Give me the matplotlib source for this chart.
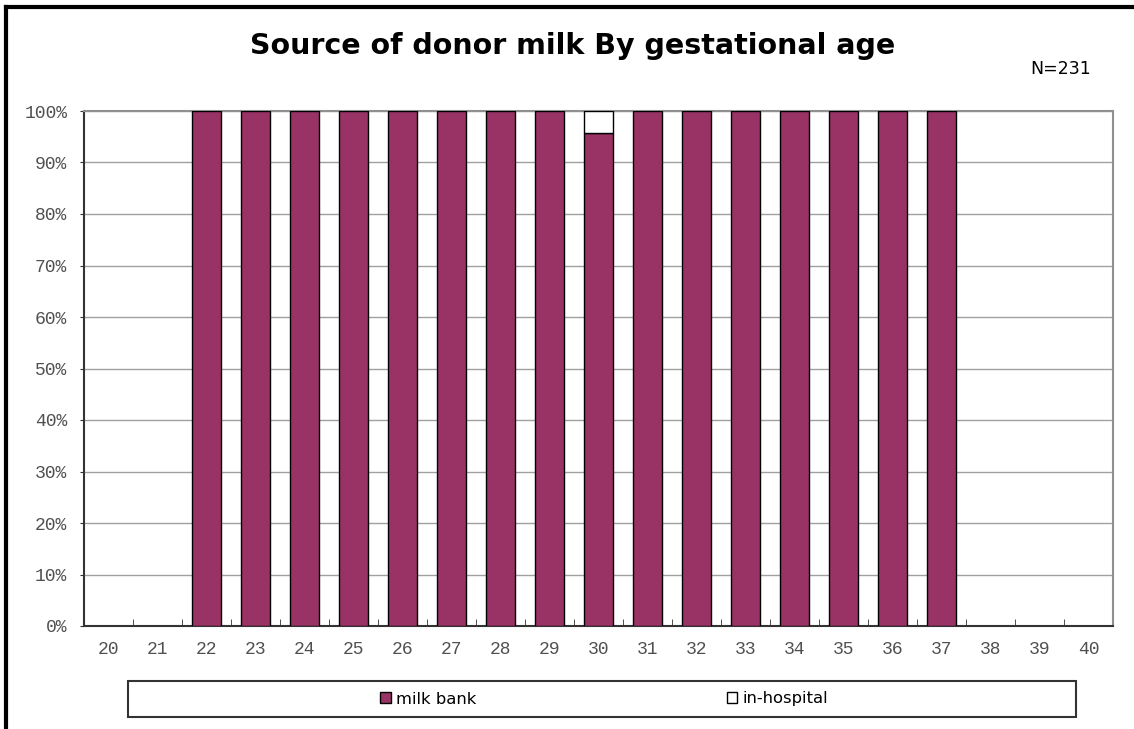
import matplotlib
matplotlib.use("Agg")
import matplotlib.pyplot as plt
from matplotlib.patches import Rectangle
from matplotlib.lines import Line2D
import numpy as np

categories = [str(w) for w in range(20, 41)]
milk_bank = [0, 0, 100, 100, 100, 100, 100, 100, 100, 100, 95.7, 100, 100, 100, 100, 100, 100, 100, 0, 0, 0]
in_hospital = [0, 0, 0, 0, 0, 0, 0, 0, 0, 0, 4.3, 0, 0, 0, 0, 0, 0, 0, 0, 0, 0]
title = "Source of donor milk By gestational age"
note = "N=231"
series_names = ["milk bank", "in-hospital"]
yticks = list(range(0, 101, 10))
ytick_labels = [f"{v}%" for v in yticks]

W, H = 1134, 729
fig = plt.figure(figsize=(W / 100, H / 100), dpi=100)
fig.patch.set_facecolor("white")

L, R, T, B = 84, 1113, 111, 626
ax = fig.add_axes([L / W, 1 - B / H, (R - L) / W, (B - T) / H])

x = np.arange(len(categories))
mb = np.array(milk_bank, dtype=float)
ih = np.array(in_hospital, dtype=float)
purple = "#993366"
bw = 0.6
m1 = mb > 0
ax.bar(x[m1], mb[m1], width=bw, color=purple, edgecolor="black", linewidth=1.0, zorder=3)
m2 = ih > 0
ax.bar(x[m2], ih[m2], bottom=mb[m2], width=bw,
       color="white", edgecolor="black", linewidth=1.0, zorder=3)

tick_font = {"family": "Liberation Mono", "size": 13}
ax.set_xlim(-0.5, len(categories) - 0.5)
ax.set_ylim(0, 100)
ax.set_yticks(yticks)
ax.set_yticklabels(ytick_labels, fontdict=tick_font, color="#505050")
ax.yaxis.grid(True, color="#a0a0a0", linewidth=1.0, zorder=0)
ax.tick_params(axis="y", length=3, direction="out", color="#333333", pad=9)

ax.set_xticks(x)
ax.set_xticklabels(categories, fontdict=tick_font, color="#505050")
ax.tick_params(axis="x", length=0, pad=11)
ax.set_xticks(np.arange(-0.5, len(categories) + 0.5, 1), minor=True)
ax.tick_params(axis="x", which="minor", length=5, direction="in", color="#333333")

for s in ["left", "bottom"]:
    ax.spines[s].set_color("#333333")
    ax.spines[s].set_linewidth(1.5)
for s in ["top", "right"]:
    ax.spines[s].set_color("#909090")
    ax.spines[s].set_linewidth(1.5)

fig.text(573 / W, 1 - 46 / H, title, ha="center", va="center", fontsize=20.5,
         fontweight="bold", fontfamily="DejaVu Sans")
fig.text(1061 / W, 1 - 69 / H, note, ha="center", va="center", fontsize=12.5,
         fontfamily="DejaVu Sans")

# outer chart border (top and left only visible)
fig.add_artist(Line2D([6 / W, 6 / W], [0, 1 - 7 / H], transform=fig.transFigure, color="black", linewidth=3))
fig.add_artist(Line2D([6 / W, 1], [1 - 7 / H, 1 - 7 / H], transform=fig.transFigure, color="black", linewidth=3))

# legend box
fig.add_artist(Rectangle((128 / W, 1 - 717 / H), (1076 - 128) / W, (717 - 681) / H,
                         transform=fig.transFigure, facecolor="white", edgecolor="#333333", linewidth=1.5))
handles = [Rectangle((0, 0), 1, 1, facecolor=purple, edgecolor="black", linewidth=1),
           Rectangle((0, 0), 1, 1, facecolor="white", edgecolor="black", linewidth=1)]
fig.legend(handles, series_names, loc="center", bbox_to_anchor=(604 / W, 1 - 699 / H),
           ncol=2, frameon=False, handlelength=0.65, handleheight=0.65, handletextpad=0.3,
           columnspacing=15.3, prop={"family": "DejaVu Sans", "size": 11.8})

fig.savefig("out.png", dpi=100, facecolor="white")
